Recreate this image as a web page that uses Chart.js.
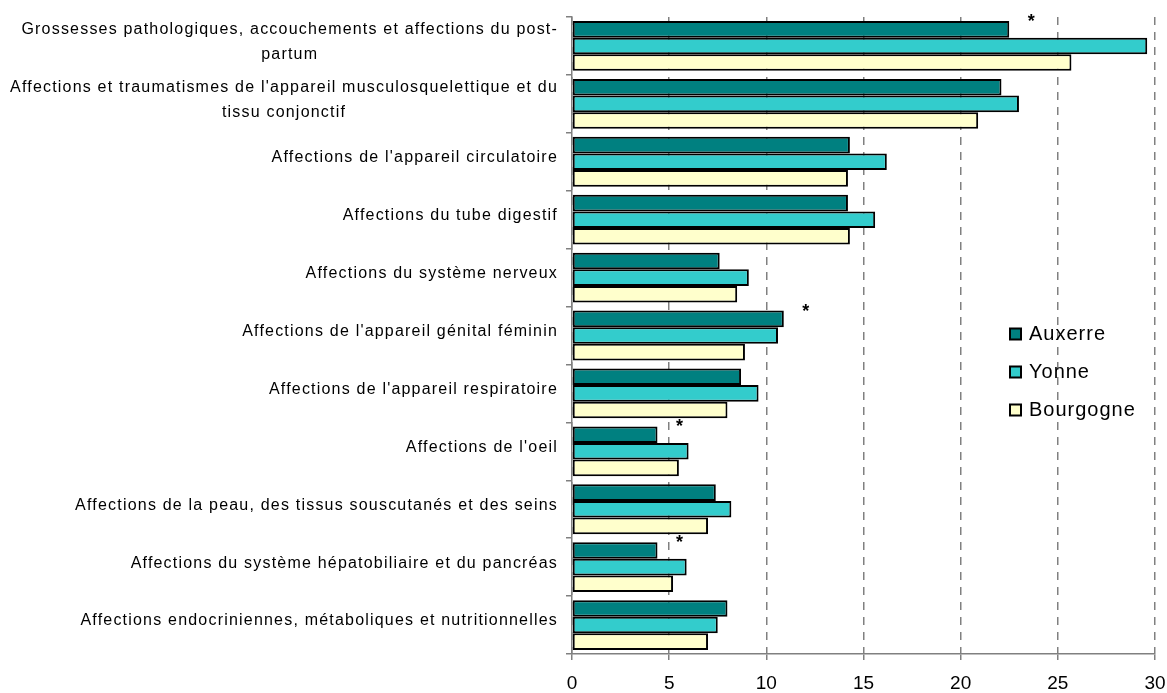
<!DOCTYPE html>
<html>
<head>
<meta charset="utf-8">
<script src="https://cdn.jsdelivr.net/npm/chart.js@4"></script>
<style>
  html, body { margin: 0; padding: 0; background: #fff; }
  #wrap { width: 1167px; height: 693px; position: relative; }
</style>
</head>
<body>
<div id="wrap"><canvas id="hospChart"></canvas></div>
<script>
// Categories (wrapped labels, one array entry per line)
const categories = [
  ["Grossesses pathologiques, accouchements et affections du post-", "partum"],
  ["Affections et traumatismes de l'appareil musculosquelettique et du", "tissu conjonctif"],
  ["Affections de l'appareil circulatoire"],
  ["Affections du tube digestif"],
  ["Affections du système nerveux"],
  ["Affections de l'appareil génital féminin"],
  ["Affections de l'appareil respiratoire"],
  ["Affections de l'oeil"],
  ["Affections de la peau, des tissus souscutanés et des seins"],
  ["Affections du système hépatobiliaire et du pancréas"],
  ["Affections endocriniennes, métaboliques et nutritionnelles"]
];

// Series values
const auxerre   = [22.5, 22.1, 14.3, 14.2, 7.6, 10.9, 8.7, 4.4, 7.4, 4.4, 8.0];
const yonne     = [29.6, 23.0, 16.2, 15.6, 9.1, 10.6, 9.6, 6.0, 8.2, 5.9, 7.5];
const bourgogne = [25.7, 20.9, 14.2, 14.3, 8.5, 8.9, 8.0, 5.5, 7.0, 5.2, 7.0];

// Significant difference marker for Auxerre
const significant = [true, false, false, false, false, true, false, true, false, true, false];

// X axis ticks
const xTicks = [0, 5, 10, 15, 20, 25, 30];

const seriesNames = ["Auxerre", "Yonne", "Bourgogne"];
const seriesColors = ["#008080", "#33CCCC", "#FFFFCC"];

const fontFamily = '"Liberation Sans", Arial, sans-serif';

// draws the centred multi-line category labels, the asterisks and the legend
const extrasPlugin = {
  id: 'extras',
  afterDraw(chart) {
    const c = chart.ctx;
    const y = chart.scales.y;
    const area = chart.chartArea;
    c.save();
    c.fillStyle = '#000';

    // category labels
    c.font = '16px ' + fontFamily;
    c.letterSpacing = '1.2px';
    c.textBaseline = 'middle';
    c.textAlign = 'center';
    const right = area.left - 14;
    const lineH = 25;
    categories.forEach((lines, i) => {
      const cy = y.getPixelForValue(i) - 4;
      const w = Math.max(...lines.map(l => c.measureText(l).width));
      const cx = right - w / 2;
      const top = cy - (lines.length - 1) * lineH / 2;
      lines.forEach((l, k) => c.fillText(l, cx, top + k * lineH));
    });

    // asterisks next to the Auxerre bars
    c.letterSpacing = '0px';
    c.font = 'bold 18px ' + fontFamily;
    const meta = chart.getDatasetMeta(0);
    significant.forEach((s, i) => {
      if (!s) return;
      const bar = meta.data[i];
      const top = bar.y - bar.height / 2;
      c.fillText('*', bar.x + 22, top + 1);
    });

    // legend
    c.font = '20px ' + fontFamily;
    c.letterSpacing = '1px';
    c.textAlign = 'left';
    const lx = 1010;
    const ly = 334;
    seriesNames.forEach((name, k) => {
      const yy = ly + k * 38;
      c.fillStyle = seriesColors[k];
      c.fillRect(lx, yy - 5.5, 11, 11);
      c.strokeStyle = '#000';
      c.lineWidth = 2;
      c.strokeRect(lx, yy - 5.5, 11, 11);
      c.fillStyle = '#000';
      c.fillText(name, lx + 19, yy);
    });
    c.restore();
  }
};

const datasets = [auxerre, yonne, bourgogne].map((vals, k) => ({
  label: seriesNames[k],
  data: vals,
  backgroundColor: seriesColors[k],
  borderColor: '#000',
  borderWidth: 2,
  borderSkipped: false,
  categoryPercentage: 0.86,
  barPercentage: 1.0
}));

new Chart(document.getElementById('hospChart'), {
  type: 'bar',
  data: { labels: categories.map(l => l.join(' ')), datasets: datasets },
  options: {
    indexAxis: 'y',
    responsive: true,
    maintainAspectRatio: false,
    animation: false,
    layout: { padding: { top: 17, right: 0, left: 0, bottom: 0 } },
    scales: {
      x: {
        min: 0,
        max: 30,
        afterBuildTicks: scale => { scale.ticks = xTicks.map(v => ({ value: v })); },
        afterFit: scale => {
          scale.height = 39;
          scale.paddingLeft = 0;
          scale.paddingRight = 12;
        },
        grid: {
          color: '#808080',
          lineWidth: 1.5,
          tickLength: 6,
          tickBorderDash: [],
          tickColor: '#808080'
        },
        border: { display: true, color: '#808080', width: 1.5, dash: [8, 7] },
        ticks: {
          color: '#000',
          font: { family: fontFamily, size: 19 },
          padding: 12
        }
      },
      y: {
        offset: true,
        afterFit: scale => { scale.width = 572; },
        grid: {
          offset: true,
          drawOnChartArea: false,
          tickLength: 6,
          color: '#808080',
          lineWidth: 1.5
        },
        border: { display: true, color: '#808080', width: 1.5 },
        ticks: { color: 'rgba(0,0,0,0)', font: { size: 1 } }
      }
    },
    plugins: {
      legend: { display: false },
      tooltip: { enabled: false }
    }
  },
  plugins: [extrasPlugin]
});
</script>
</body>
</html>
